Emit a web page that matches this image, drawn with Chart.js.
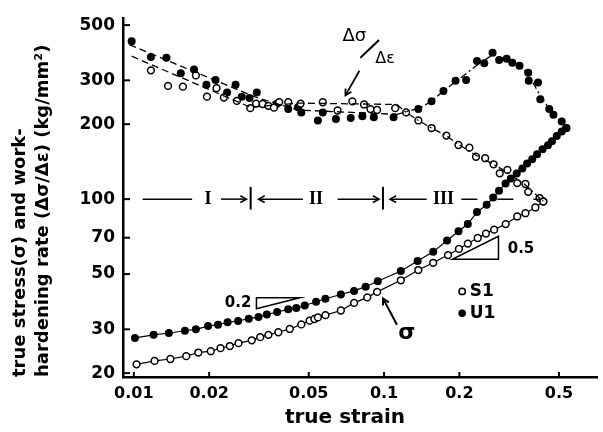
<!DOCTYPE html>
<html lang="en">
<head>
    <meta charset="UTF-8">
    <title>True stress and work-hardening rate vs true strain</title>
    <script src="https://cdn.jsdelivr.net/npm/chart.js"></script>
    <style>
        body {
            margin: 0;
            padding: 0;
            background: #fff;
        }

        .chart-container {
            width: 603px;
            height: 432px;
        }
    </style>
</head>
<body>
    <div class="chart-container">
        <canvas id="strainChart" width="603" height="432"></canvas>
    </div>

    <script>
        // axis ticks
        const xTicks = [0.01, 0.02, 0.05, 0.1, 0.2, 0.5];
        const xTickLabels = ['0.01', '0.02', '0.05', '0.1', '0.2', '0.5'];
        const yTicks = [20, 30, 50, 70, 100, 200, 300, 500];

        // true stress, S1 (open circles)
        const s1StressStrain = [0.01025, 0.0121, 0.0140, 0.0162, 0.0181, 0.0203, 0.0222, 0.0242, 0.0262, 0.0296, 0.0320, 0.0345, 0.0378, 0.0420, 0.0467, 0.0504, 0.0527, 0.0544, 0.0583, 0.0672, 0.0759, 0.0857, 0.0938, 0.1167, 0.1371, 0.1572, 0.1802, 0.1992, 0.2162, 0.2368, 0.2554, 0.2754, 0.3064, 0.3407, 0.3674, 0.4025, 0.4330];
        const s1StressValues = [21.7, 22.4, 22.8, 23.4, 24.2, 24.5, 25.2, 25.7, 26.4, 27.1, 27.9, 28.5, 29.2, 30.1, 31.4, 32.5, 33.0, 33.5, 34.2, 35.7, 38.3, 40.3, 42.4, 47.2, 51.9, 55.5, 59.6, 63.1, 66.3, 69.8, 72.7, 75.4, 79.4, 85.2, 87.8, 92.6, 97.8];

        // true stress, U1 (filled circles)
        const u1StressStrain = [0.0101, 0.0120, 0.0138, 0.0160, 0.0177, 0.0198, 0.0217, 0.0237, 0.0261, 0.0288, 0.0315, 0.0340, 0.0374, 0.0414, 0.0446, 0.0482, 0.0535, 0.0583, 0.0672, 0.0759, 0.0844, 0.0944, 0.1167, 0.1362, 0.1572, 0.1786, 0.1984, 0.2162, 0.2352, 0.2570, 0.2730, 0.2880, 0.3060, 0.3210, 0.3390, 0.3570, 0.3730, 0.3910, 0.4090, 0.4300, 0.4520, 0.4690, 0.4900, 0.5130, 0.5340];
        const u1StressValues = [27.7, 28.5, 29.0, 29.6, 30.0, 30.9, 31.3, 32.0, 32.4, 33.1, 33.6, 34.4, 35.2, 36.1, 36.5, 37.4, 38.7, 39.8, 41.4, 42.8, 44.5, 46.8, 51.4, 56.4, 61.4, 68.2, 74.3, 79.4, 88.7, 94.9, 101.5, 108.1, 115.6, 121.1, 126.8, 132.7, 139.0, 144.6, 151.5, 158.6, 164.6, 170.7, 179.1, 187.1, 192.8];

        // work-hardening rate, S1
        const s1RateStrain = [0.0117, 0.0137, 0.0157, 0.0177, 0.0196, 0.0214, 0.0229, 0.0258, 0.0292, 0.0308, 0.0327, 0.0345, 0.0363, 0.0381, 0.0414, 0.0464, 0.0569, 0.0652, 0.0747, 0.0832, 0.0883, 0.0938, 0.1108, 0.1225, 0.1371, 0.1548, 0.1774, 0.1984, 0.2193, 0.2331, 0.2536, 0.2739, 0.2900, 0.3111, 0.3407, 0.3674, 0.3767, 0.4184, 0.4330];
        const s1RateValues = [329, 285, 283, 314, 258, 279, 256, 248, 232, 242, 241, 237, 233, 245, 245, 242, 245, 227, 247, 240, 230, 228, 232, 223, 207, 193, 180, 165, 161, 148, 146, 138, 127, 131, 116, 115, 107, 101, 98];

        // work-hardening rate, U1
        const u1RateStrain = [0.0098, 0.0117, 0.0135, 0.0154, 0.0174, 0.0195, 0.0212, 0.0236, 0.0255, 0.0270, 0.0290, 0.0310, 0.0372, 0.0414, 0.0453, 0.0467, 0.0544, 0.0569, 0.0642, 0.0736, 0.0819, 0.0910, 0.1092, 0.1371, 0.1548, 0.1727, 0.1931, 0.2128, 0.2352, 0.2515, 0.2714, 0.2883, 0.3091, 0.3256, 0.3479, 0.3767, 0.3787, 0.4125, 0.4212, 0.4573, 0.4754, 0.5130, 0.5360];
        const u1RateValues = [431, 372, 370, 320, 332, 288, 301, 268, 288, 258, 255, 268, 241, 230, 234, 223, 207, 223, 210, 212, 215, 213, 213, 230, 247, 272, 299, 301, 359, 351, 387, 362, 366, 353, 343, 322, 299, 294, 252, 230, 218, 205, 193];

        // dashed trend lines drawn through the rate points
        const s1TrendStrain = [0.0098, 0.0292, 0.0453, 0.1125, 0.1225, 0.1371, 0.1548, 0.1774, 0.1984, 0.2331, 0.2739, 0.3111, 0.3674, 0.4184, 0.4330];
        const s1TrendValues = [375, 234, 243, 240, 223, 207, 193, 180, 166, 150, 138, 128, 114, 101, 98];
        const u1TrendStrain = [0.0096, 0.0309, 0.0453, 0.1125, 0.1384, 0.1548, 0.1727, 0.1931, 0.2352, 0.2714, 0.3091, 0.3479, 0.3787, 0.4212, 0.4754, 0.5360];
        const u1TrendValues = [417, 256, 228, 219, 232, 247, 272, 296, 345, 380, 363, 343, 315, 260, 218, 193];

        const pts = (xs, ys) => xs.map((v, i) => ({ x: v, y: ys[i] }));

        const FONT = "'DejaVu Sans', sans-serif";
        const SERIF = "'Liberation Serif', serif";

        // long dashes on the left, dash-dot once the rate starts to change (stage III)
        const trendDash = c => c.p0.parsed.x >= 0.11 ? [7, 3, 2, 3] : [7, 4];

        // annotations: arrows, region marks, slope triangles, legend, x title
        const annotate = {
            id: 'annotate',
            afterDraw(chart) {
                const { ctx, scales: { x, y }, chartArea: a } = chart;
                const P = (e, s) => [x.getPixelForValue(e), y.getPixelForValue(s)];
                const line = (p, q, w) => {
                    ctx.lineWidth = w || 1.5;
                    ctx.beginPath(); ctx.moveTo(p[0], p[1]); ctx.lineTo(q[0], q[1]); ctx.stroke();
                };
                const arrow = (p, q, w) => {
                    line(p, q, w);
                    const ang = Math.atan2(q[1] - p[1], q[0] - p[0]);
                    const h = 7;
                    ctx.beginPath();
                    ctx.moveTo(q[0] - h * Math.cos(ang - 0.5), q[1] - h * Math.sin(ang - 0.5));
                    ctx.lineTo(q[0], q[1]);
                    ctx.lineTo(q[0] - h * Math.cos(ang + 0.5), q[1] - h * Math.sin(ang + 0.5));
                    ctx.stroke();
                };
                const text = (t, p, font, align) => {
                    ctx.font = font;
                    ctx.textAlign = align || 'center';
                    ctx.textBaseline = 'middle';
                    ctx.fillText(t, p[0], p[1]);
                };

                ctx.save();
                ctx.strokeStyle = '#000';
                ctx.fillStyle = '#000';
                ctx.lineCap = 'butt';

                // inward ticks
                yTicks.forEach(v => {
                    const py = y.getPixelForValue(v);
                    line([a.left, py], [a.left + 7, py], 2);
                });
                xTicks.forEach(v => {
                    const px = x.getPixelForValue(v);
                    line([px, a.bottom], [px, a.bottom - 5], 2);
                });

                // stage marks along 100
                line(P(0.01085, 100), P(0.0171, 100));
                text('I', P(0.0198, 100), 'bold 18px ' + SERIF);
                arrow(P(0.0223, 100), P(0.0282, 100));
                line(P(0.0293, 112), P(0.0293, 90.8), 2);
                arrow(P(0.0474, 100), P(0.0315, 100));
                text('II', P(0.0534, 100), 'bold 18px ' + SERIF);
                arrow(P(0.0652, 100), P(0.0955, 100));
                line(P(0.099, 112), P(0.099, 90.8), 2);
                arrow(P(0.148, 100), P(0.1056, 100));
                text('III', P(0.1727, 100), 'bold 18px ' + SERIF);
                ctx.setLineDash([16, 20]);
                line(P(0.2038, 100), P(0.42, 100));
                ctx.setLineDash([]);

                // Δσ/Δε label
                text('Δσ', P(0.0761, 452), '18px ' + FONT);
                line(P(0.0804, 370), P(0.0955, 436), 2);
                text('Δε', P(0.1009, 366), '16px ' + FONT);
                arrow(P(0.0797, 328), P(0.0701, 261), 1.8);

                // σ label
                text('σ', P(0.1233, 28.9), 'bold 22px ' + FONT);
                arrow(P(0.1126, 31.3), P(0.0991, 39.9), 2);

                // slope triangles
                ctx.lineWidth = 1.5;
                ctx.beginPath();
                let p = P(0.0309, 40.2); ctx.moveTo(p[0], p[1]);
                p = P(0.0309, 36.3); ctx.lineTo(p[0], p[1]);
                p = P(0.0461, 40.2); ctx.lineTo(p[0], p[1]);
                ctx.closePath(); ctx.stroke();
                text('0.2', P(0.0295, 38.2), 'bold 15px ' + FONT, 'right');

                ctx.beginPath();
                p = P(0.1874, 57.3); ctx.moveTo(p[0], p[1]);
                p = P(0.2866, 57.3); ctx.lineTo(p[0], p[1]);
                p = P(0.2866, 70.9); ctx.lineTo(p[0], p[1]);
                ctx.closePath(); ctx.stroke();
                text('0.5', P(0.312, 63), 'bold 15px ' + FONT, 'left');

                // legend
                ctx.lineWidth = 1.5;
                p = P(0.2052, 42.6);
                ctx.beginPath(); ctx.arc(p[0], p[1], 3.2, 0, Math.PI * 2); ctx.stroke();
                text('S1', P(0.22, 42.6), 'bold 17px ' + FONT, 'left');
                p = P(0.2052, 34.8);
                ctx.beginPath(); ctx.arc(p[0], p[1], 3.8, 0, Math.PI * 2); ctx.fill();
                text('U1', P(0.22, 34.8), 'bold 17px ' + FONT, 'left');

                // x axis title
                ctx.font = 'bold 20px ' + FONT;
                ctx.textAlign = 'center';
                ctx.textBaseline = 'middle';
                ctx.fillText('true strain', 345, a.bottom + 41);

                ctx.restore();
            }
        };

        const openPoint = { pointRadius: 3.4, pointBackgroundColor: '#fff', pointBorderColor: '#000', pointBorderWidth: 1.5 };
        const filledPoint = { pointRadius: 4, pointBackgroundColor: '#000', pointBorderColor: '#000', pointBorderWidth: 0 };

        const ctx = document.getElementById('strainChart').getContext('2d');
        new Chart(ctx, {
            type: 'scatter',
            data: {
                datasets: [
                    { label: 'S1 rate trend', data: pts(s1TrendStrain, s1TrendValues), showLine: true, pointRadius: 0, borderColor: '#000', borderWidth: 1.3, segment: { borderDash: trendDash } },
                    { label: 'U1 rate trend', data: pts(u1TrendStrain, u1TrendValues), showLine: true, pointRadius: 0, borderColor: '#000', borderWidth: 1.3, segment: { borderDash: trendDash } },
                    { label: 'S1 stress', data: pts(s1StressStrain, s1StressValues), showLine: true, borderColor: '#000', borderWidth: 1.2, ...openPoint },
                    { label: 'U1 stress', data: pts(u1StressStrain, u1StressValues), showLine: true, borderColor: '#000', borderWidth: 1.2, ...filledPoint },
                    { label: 'S1 rate', data: pts(s1RateStrain, s1RateValues), showLine: false, ...openPoint },
                    { label: 'U1 rate', data: pts(u1RateStrain, u1RateValues), showLine: false, ...filledPoint }
                ]
            },
            options: {
                responsive: false,
                animation: false,
                layout: { padding: { top: 15, right: 0, bottom: 0, left: 0 } },
                plugins: {
                    legend: { display: false },
                    tooltip: { enabled: false }
                },
                scales: {
                    x: {
                        type: 'logarithmic',
                        min: 0.00905,
                        max: 0.713,
                        afterBuildTicks: s => { s.ticks = xTicks.map(v => ({ value: v })); },
                        afterFit: s => { s.height = 55; },
                        grid: { display: false, drawTicks: false },
                        border: { display: true, color: '#000', width: 2.5 },
                        ticks: {
                            padding: 7,
                            color: '#000',
                            maxRotation: 0,
                            autoSkip: false,
                            font: { family: FONT, size: 16, weight: 'bold' },
                            callback: (v, i) => xTickLabels[i]
                        }
                    },
                    y: {
                        type: 'logarithmic',
                        min: 19.3,
                        max: 533,
                        afterBuildTicks: s => { s.ticks = yTicks.map(v => ({ value: v })); },
                        afterFit: s => { s.width = 123; },
                        grid: { display: false, drawTicks: false },
                        border: { display: true, color: '#000', width: 2.5 },
                        ticks: {
                            padding: 8,
                            color: '#000',
                            autoSkip: false,
                            font: { family: FONT, size: 17, weight: 'bold' },
                            callback: v => String(v)
                        },
                        title: {
                            display: true,
                            text: ['true stress(σ) and work-', 'hardening rate (Δσ/Δε) (kg/mm²)'],
                            align: 'start',
                            color: '#000',
                            font: { family: FONT, size: 18, weight: 'bold', lineHeight: 1.28 },
                            padding: { top: 9, bottom: 0 }
                        }
                    }
                }
            },
            plugins: [annotate]
        });
    </script>
</body>
</html>
